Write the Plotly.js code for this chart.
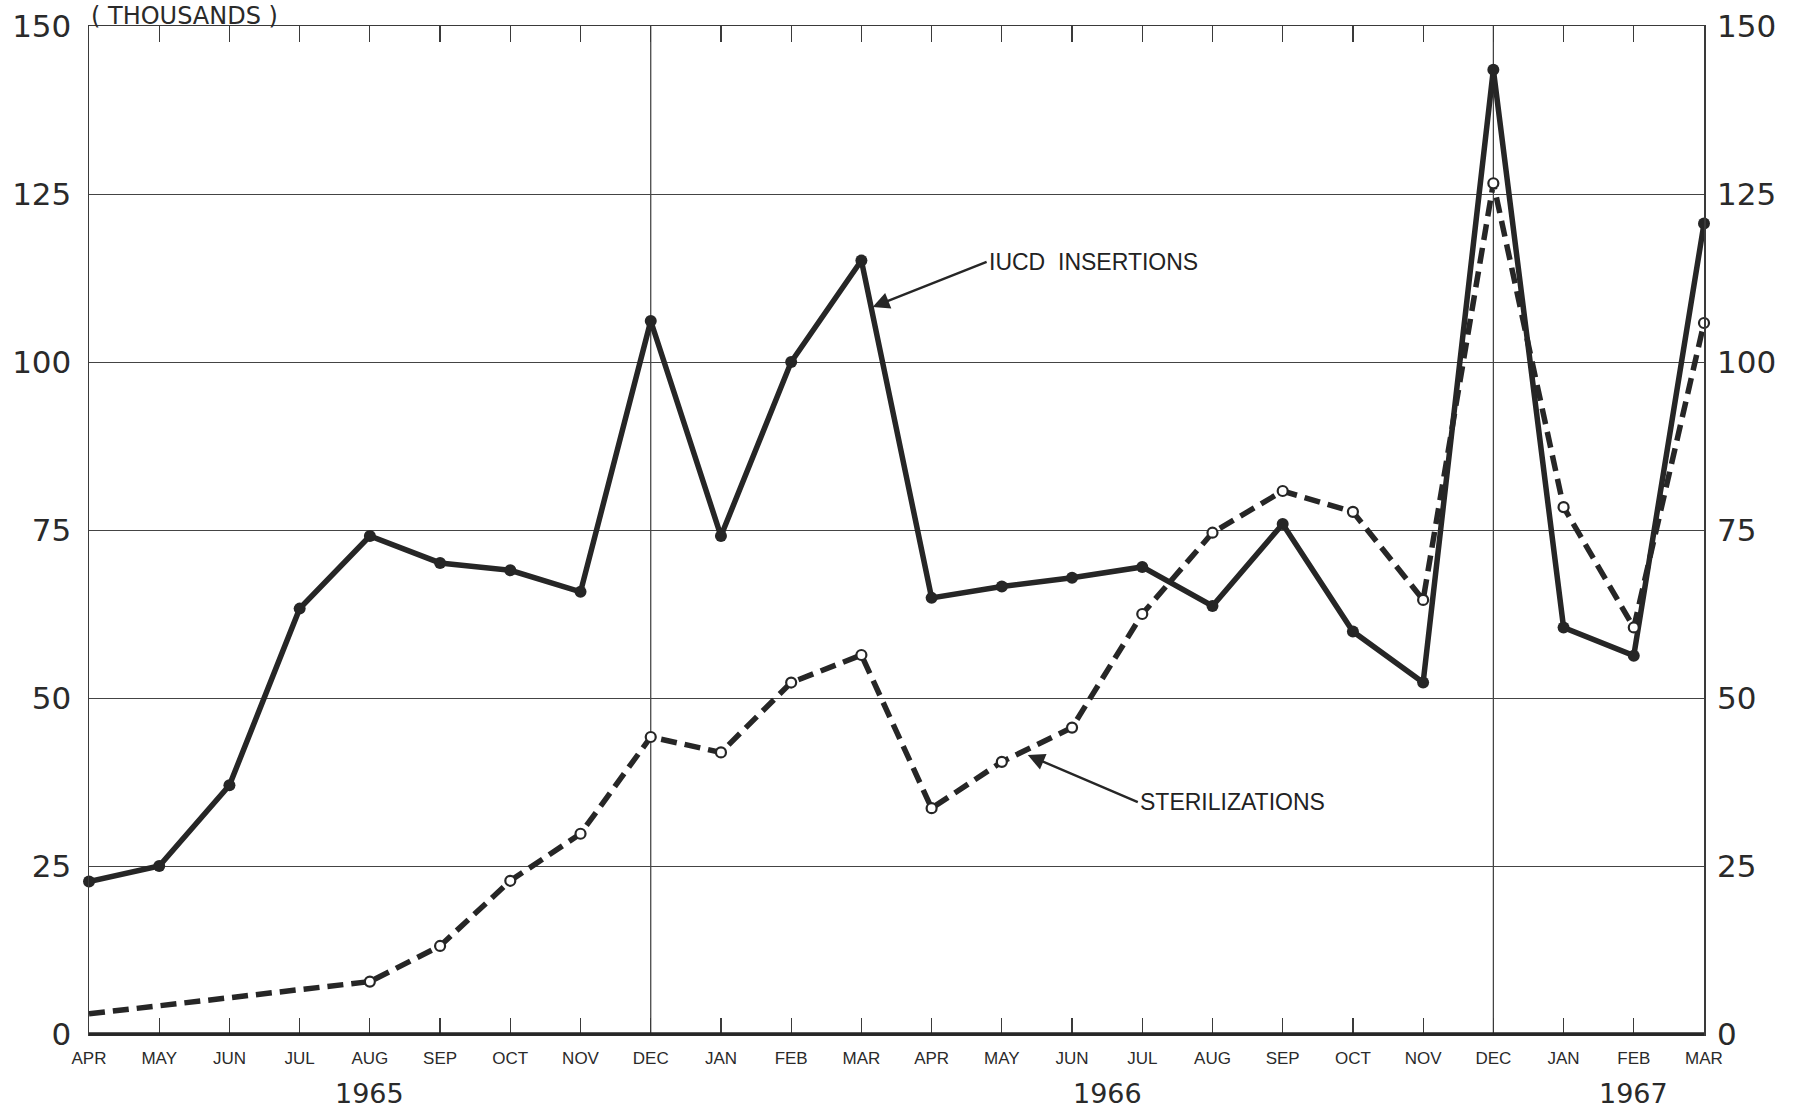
<!DOCTYPE html>
<html>
<head>
<meta charset="utf-8">
<script src="https://cdn.plot.ly/plotly-3.0.1.min.js"></script>
<style>
  html, body { margin: 0; padding: 0; background: #ffffff; }
  #chart { width: 1793px; height: 1110px; }
</style>
</head>
<body>
<div id="chart"></div>
<script>
// Month keys (category positions) and their printed labels
const months = ['1965-04','1965-05','1965-06','1965-07','1965-08','1965-09','1965-10','1965-11','1965-12',
                '1966-01','1966-02','1966-03','1966-04','1966-05','1966-06','1966-07','1966-08','1966-09','1966-10','1966-11','1966-12',
                '1967-01','1967-02','1967-03'];
const monthLabels = ['APR','MAY','JUN','JUL','AUG','SEP','OCT','NOV','DEC',
                     'JAN','FEB','MAR','APR','MAY','JUN','JUL','AUG','SEP','OCT','NOV','DEC',
                     'JAN','FEB','MAR'];
// Values in thousands
const iucdInsertions = [22.7, 25.0, 37.0, 63.3, 74.1, 70.1, 69.0, 65.8, 106.1,
                        74.1, 100.0, 115.1, 64.9, 66.6, 67.9, 69.5, 63.7, 75.9, 59.9, 52.3, 143.5,
                        60.5, 56.3, 120.6];
const sterilizations = [3.0, null, null, null, 7.8, 13.1, 22.8, 29.8, 44.2,
                        41.9, 52.3, 56.4, 33.6, 40.5, 45.6, 62.5, 74.6, 80.8, 77.7, 64.6, 126.6,
                        78.4, 60.5, 105.8];
const yTicks = [0, 25, 50, 75, 100, 125, 150];
const yearLabels = ['1965', '1966', '1967'];
const yearPositions = [4, 14.5, 22];   // category index under which each year is printed
const yearDividers = ['1965-12', '1966-12'];

const ink = '#262626';
const numFont = {family: 'DejaVu Sans, Liberation Sans, sans-serif', size: 31, color: '#2a2a2a'};
const monthFont = {family: 'Liberation Sans, DejaVu Sans, sans-serif', size: 17, color: '#2a2a2a'};
const noteFont = {family: 'Liberation Sans, DejaVu Sans, sans-serif', size: 23, color: '#222'};

// the first sterilization point sits on the axis without a drawn circle
const sterilMarkerSizes = sterilizations.map((v, i) => (i === 0 ? 0 : 10));

const traces = [
  {
    type: 'scatter', mode: 'lines+markers', name: 'IUCD insertions',
    x: months, y: iucdInsertions,
    line: {color: ink, width: 5.5},
    marker: {color: ink, size: 12},
    cliponaxis: false,
    xaxis: 'x', yaxis: 'y'
  },
  {
    type: 'scatter', mode: 'lines+markers', name: 'Sterilizations',
    x: months, y: sterilizations, connectgaps: true,
    line: {color: ink, width: 5.5, dash: '16px,8px'},
    marker: {symbol: 'circle', color: 'rgb(255,255,255)', opacity: 1, size: sterilMarkerSizes,
             line: {color: ink, width: 2.2}},
    cliponaxis: false,
    xaxis: 'x', yaxis: 'y2'
  }
];

const shapes = yearDividers.map(m => ({
  type: 'line', xref: 'x', yref: 'paper',
  x0: months.indexOf(m), x1: months.indexOf(m), y0: 0, y1: 1,
  line: {color: '#3a3a3a', width: 1.2}, layer: 'below'
}));
// heavier baseline
shapes.push({type: 'line', xref: 'paper', yref: 'paper', x0: 0, x1: 1, y0: 0, y1: 0,
             line: {color: ink, width: 3.5}, layer: 'above'});

const annotations = yearLabels.map((t, i) => ({
  text: t, xref: 'x', yref: 'paper', x: yearPositions[i], y: -0.0595,
  xanchor: 'center', yanchor: 'middle', showarrow: false,
  font: {family: numFont.family, size: 27, color: '#2a2a2a'}
}));
annotations.push({
  text: '( THOUSANDS )', xref: 'paper', yref: 'paper', x: 0.0, y: 1.0258,
  xanchor: 'left', yanchor: 'top', showarrow: false,
  font: {family: numFont.family, size: 24, color: '#2a2a2a'}
});
annotations.push({
  text: 'IUCD  INSERTIONS', xref: 'x', yref: 'y', x: 11.16, y: 108.2,
  ax: 114, ay: -45, xanchor: 'left', yanchor: 'middle',
  showarrow: true, arrowhead: 2, arrowsize: 1.4, arrowwidth: 2.4, arrowcolor: ink, standoff: 0,
  font: noteFont
});
annotations.push({
  text: 'STERILIZATIONS', xref: 'x', yref: 'y', x: 13.37, y: 41.5,
  ax: 110, ay: 47, xanchor: 'left', yanchor: 'middle',
  showarrow: true, arrowhead: 2, arrowsize: 1.4, arrowwidth: 2.4, arrowcolor: ink, standoff: 0,
  font: noteFont
});

const layout = {
  width: 1793, height: 1110,
  margin: {l: 89, r: 89, t: 26, b: 76, pad: 0},
  paper_bgcolor: '#ffffff', plot_bgcolor: '#ffffff',
  showlegend: false,
  xaxis: {
    type: 'category', range: [0, months.length - 1],
    tickmode: 'array', tickvals: months, ticktext: monthLabels,
    ticks: 'inside', ticklen: 16, tickwidth: 1.2, tickcolor: '#3a3a3a',
    showline: true, linecolor: '#3a3a3a', linewidth: 1.5, mirror: 'ticks',
    showgrid: false, zeroline: false,
    tickfont: monthFont, ticklabelstandoff: 8, tickangle: 0
  },
  yaxis: {
    range: [0, 150], tickmode: 'array', tickvals: yTicks,
    ticks: '', showline: true, linecolor: '#3a3a3a', linewidth: 1.5, mirror: true,
    showgrid: true, gridcolor: '#444', gridwidth: 1, zeroline: false,
    tickfont: numFont, ticklabelstandoff: 10
  },
  yaxis2: {
    range: [0, 150], overlaying: 'y', side: 'right', anchor: 'x',
    tickmode: 'array', tickvals: yTicks, ticks: '',
    showline: false, showgrid: false, zeroline: false,
    tickfont: numFont, ticklabelstandoff: 12
  },
  shapes: shapes,
  annotations: annotations
};

Plotly.newPlot('chart', traces, layout, {displayModeBar: false, staticPlot: true});
</script>
</body>
</html>
